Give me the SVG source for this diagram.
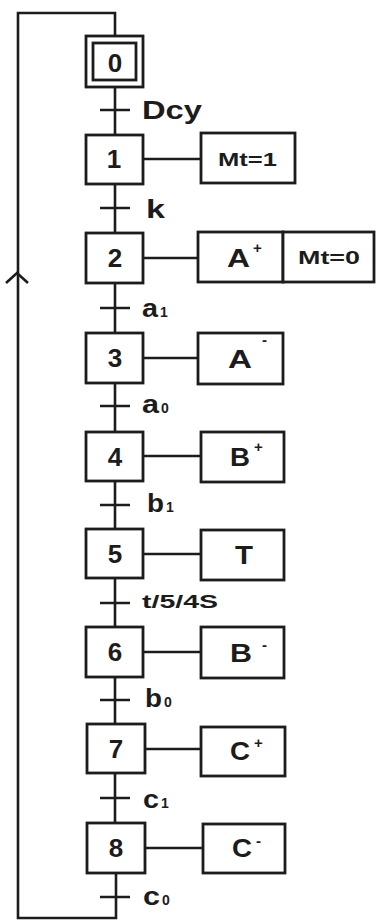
<svg xmlns="http://www.w3.org/2000/svg" width="377" height="923" viewBox="0 0 377 923">
<style>
.bx{fill:#fff;stroke:#1c1c1c;stroke-width:2.8}
.ln{fill:none;stroke:#1c1c1c;stroke-width:2.6}
text{font-family:"Liberation Sans",Arial,sans-serif;font-weight:bold;fill:#1c1c1c}
.num{font-size:26px;text-anchor:middle}
.act{font-size:25px}
.sup{font-size:15px}
.sm{font-size:19px}
.lab{font-size:25px}
.sub{font-size:14px}
</style>
<rect width="377" height="923" fill="#fff"/>
<g id="connectors">
<path class="ln" d="M115,36 V13 H18 V918 H116 V873"/>
<path class="ln" d="M6,283 L17,273 L28,283"/>
<path class="ln" d="M115,87 V823"/>
<path class="ln" d="M100,110 H130 M100,208 H130 M100,308 H130 M100,406 H130 M100,505 H130 M100,603 H130 M100,700 H130 M100,798 H130 M100,897 H130"/>
<path class="ln" d="M143,159 H201 M143,258 H198 M143,358 H198 M143,456 H201 M143,554 H201 M143,652 H201 M145,749 H201 M145,848 H203"/>
</g>
<g id="labels">
<text class="lab" x="142" y="119" textLength="60" lengthAdjust="spacingAndGlyphs">Dcy</text>
<text class="lab" x="146" y="218" textLength="19" lengthAdjust="spacingAndGlyphs">k</text>
<text class="lab" x="142" y="317" textLength="16" lengthAdjust="spacingAndGlyphs">a</text><text class="sub" x="160" y="317">1</text>
<text class="lab" x="142" y="413" textLength="17" lengthAdjust="spacingAndGlyphs">a</text><text class="sub" x="161" y="413">0</text>
<text class="lab" x="147" y="512" textLength="17" lengthAdjust="spacingAndGlyphs">b</text><text class="sub" x="166" y="512">1</text>
<text class="lab" x="142" y="608" style="font-size:18px" textLength="76" lengthAdjust="spacingAndGlyphs">t/5/4S</text>
<text class="lab" x="145" y="707" textLength="17" lengthAdjust="spacingAndGlyphs">b</text><text class="sub" x="164" y="707">0</text>
<text class="lab" x="143" y="808" textLength="16" lengthAdjust="spacingAndGlyphs">c</text><text class="sub" x="161" y="808">1</text>
<text class="lab" x="143" y="905" textLength="17" lengthAdjust="spacingAndGlyphs">c</text><text class="sub" x="162" y="905">0</text>
</g>
<g id="step0"><rect class="bx" x="86" y="36" width="57" height="51"/><rect class="bx" x="93" y="43" width="43" height="37"/><text class="num" x="115" y="72">0</text></g>
<g id="step1"><rect class="bx" x="86" y="135" width="57" height="49"/><text class="num" x="114" y="168">1</text></g>
<g id="step2"><rect class="bx" x="86" y="233" width="57" height="50"/><text class="num" x="115" y="267">2</text></g>
<g id="step3"><rect class="bx" x="86" y="333" width="57" height="50"/><text class="num" x="115" y="367">3</text></g>
<g id="step4"><rect class="bx" x="86" y="432" width="57" height="49"/><text class="num" x="115" y="466">4</text></g>
<g id="step5"><rect class="bx" x="86" y="529" width="57" height="49"/><text class="num" x="115" y="563">5</text></g>
<g id="step6"><rect class="bx" x="86" y="627" width="57" height="50"/><text class="num" x="115" y="661">6</text></g>
<g id="step7"><rect class="bx" x="87" y="724" width="58" height="49"/><text class="num" x="116" y="758">7</text></g>
<g id="step8"><rect class="bx" x="87" y="823" width="58" height="50"/><text class="num" x="116" y="857">8</text></g>
<g id="action1"><rect class="bx" x="201" y="133" width="94" height="50"/><text class="sm" x="218" y="166" textLength="59" lengthAdjust="spacingAndGlyphs">Mt=1</text></g>
<g id="action2"><rect class="bx" x="198" y="232" width="85" height="50"/><rect class="bx" x="283" y="232" width="91" height="50"/><text class="act" x="227" y="267" textLength="23" lengthAdjust="spacingAndGlyphs">A</text><text class="sup" x="253" y="253">+</text><text class="sm" x="298" y="264" textLength="62" lengthAdjust="spacingAndGlyphs">Mt=0</text></g>
<g id="action3"><rect class="bx" x="198" y="333" width="85" height="51"/><text class="act" x="228" y="368" textLength="24" lengthAdjust="spacingAndGlyphs">A</text><text class="sup" x="262" y="345">-</text></g>
<g id="action4"><rect class="bx" x="201" y="432" width="83" height="50"/><text class="act" x="230" y="466" textLength="20" lengthAdjust="spacingAndGlyphs">B</text><text class="sup" x="254" y="452">+</text></g>
<g id="action5"><rect class="bx" x="201" y="530" width="83" height="50"/><text class="act" x="235" y="564" textLength="18" lengthAdjust="spacingAndGlyphs">T</text></g>
<g id="action6"><rect class="bx" x="201" y="627" width="83" height="51"/><text class="act" x="230" y="662" textLength="22" lengthAdjust="spacingAndGlyphs">B</text><text class="sup" x="262" y="650">-</text></g>
<g id="action7"><rect class="bx" x="201" y="727" width="84" height="49"/><text class="act" x="230" y="760" textLength="20" lengthAdjust="spacingAndGlyphs">C</text><text class="sup" x="254" y="748">+</text></g>
<g id="action8"><rect class="bx" x="203" y="824" width="82" height="49"/><text class="act" x="232" y="857" textLength="20" lengthAdjust="spacingAndGlyphs">C</text><text class="sup" x="256" y="846">-</text></g>
</svg>
